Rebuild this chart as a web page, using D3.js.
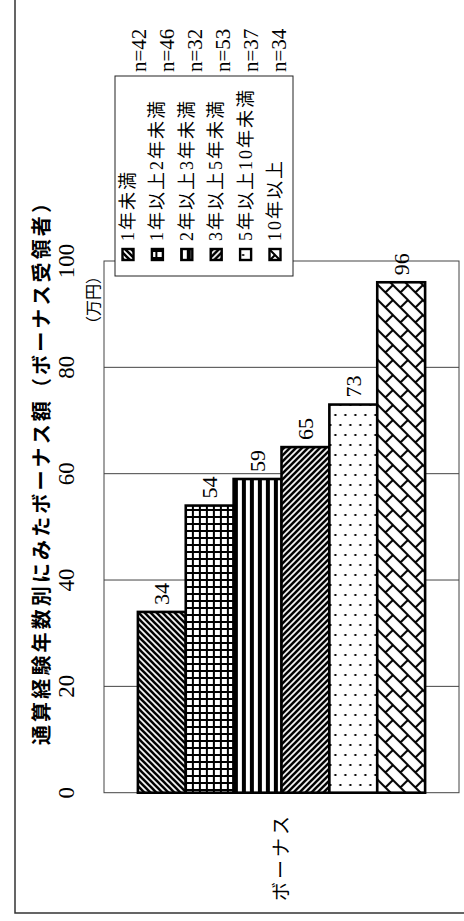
<!DOCTYPE html>
<html>
<head>
<meta charset="utf-8">
<script src="https://cdn.jsdelivr.net/npm/d3@7"></script>
<style>
  body { margin: 0; background: #fff; }
  svg { display: block; }
</style>
</head>
<body>
<svg id="canvas" width="464" height="921"></svg>
<script>
let categories = ["ボーナス"];
let series = ["1年未満", "1年以上2年未満", "2年以上3年未満", "3年以上5年未満", "5年以上10年未満", "10年以上"];
let values = [34, 54, 59, 65, 73, 96];
let counts = [42, 46, 32, 53, 37, 34];
let tickValues = [0, 20, 40, 60, 80, 100];

let serif = "'Liberation Serif', 'Times New Roman', 'DejaVu Serif', 'Noto Sans CJK JP', serif";

let svg = d3.select("#canvas");
let defs = svg.append("defs");

// hatch patterns, one per series
let pat = (id, w, h) => {
  let p = defs.append("pattern").attr("id", id)
    .attr("patternUnits", "userSpaceOnUse")
    .attr("width", w).attr("height", h);
  p.append("rect").attr("width", w).attr("height", h).attr("fill", "#fff");
  return p;
};
pat("p0", 6, 6).append("path")
  .attr("d", "M-1,-1L7,7M-1,5L1,7M5,-1L7,1")
  .attr("stroke", "#000").attr("stroke-width", 2.6);
let g1 = pat("p1", 7, 7);
g1.append("rect").attr("width", 7).attr("height", 7).attr("fill", "#000");
g1.append("rect").attr("width", 5).attr("height", 5).attr("fill", "#fff");
pat("p2", 8, 8).append("rect").attr("width", 4).attr("height", 8).attr("fill", "#000");
pat("p3", 6, 6).append("path")
  .attr("d", "M-1,7L7,-1M-1,1L1,-1M5,7L7,5")
  .attr("stroke", "#000").attr("stroke-width", 2.6);
let g4 = pat("p4", 10, 20);
g4.append("rect").attr("x", 1.5).attr("y", 4).attr("width", 2).attr("height", 2).attr("fill", "#000");
g4.append("rect").attr("x", 6.5).attr("y", 14).attr("width", 2).attr("height", 2).attr("fill", "#000");
pat("p5", 15, 15).append("path")
  .attr("d", "M0,0L15,15M-1,14L1,16M14,-1L16,1M7.5,7.5L15,0")
  .attr("stroke", "#000").attr("stroke-width", 2).attr("fill", "none");

let fillOf = (i) => "url(#p" + i + ")";

// outer frame
svg.append("path").attr("d", "M15,0V913H464")
  .attr("fill", "none").attr("stroke", "#333").attr("stroke-width", 1.5);

// scales (image is the chart turned on its side: bars stand up, value axis runs bottom->top)
let plotLeft = 104, plotRight = 459, plotBottom = 792.7, plotTop = 261;
let x0 = d3.scaleBand().domain(categories).range([plotLeft, plotRight]).paddingInner(0).paddingOuter(0.118);
let x1 = d3.scaleBand().domain(series).range([0, x0.bandwidth()]).padding(0);
let y = d3.scaleLinear().domain([0, 100]).range([plotBottom, plotTop]);

let vtext = (sel, x, yy) => sel.attr("transform", "translate(" + x + "," + yy + ") rotate(-90)");

// plot frame and gridlines
svg.append("rect").attr("x", plotLeft).attr("y", y(100)).attr("width", plotRight - plotLeft).attr("height", y(0) - y(100))
  .attr("fill", "none").attr("stroke", "#444").attr("stroke-width", 1);
svg.append("g").selectAll("line").data(tickValues.slice(1, -1)).enter().append("line")
  .attr("x1", plotLeft).attr("x2", plotRight)
  .attr("y1", (d) => y(d)).attr("y2", (d) => y(d))
  .attr("stroke", "#444").attr("stroke-width", 1);

// tick labels
svg.append("g").selectAll("text").data(tickValues).enter().append("text")
  .attr("font-family", serif).attr("font-size", 23)
  .attr("text-anchor", "middle").attr("dominant-baseline", "central")
  .each(function (d) { vtext(d3.select(this), 66, y(d)); })
  .text((d) => d);

svg.append("text").attr("font-family", serif).attr("font-size", 16)
  .attr("text-anchor", "middle").attr("dominant-baseline", "central")
  .call(vtext, 93, 300).text("（万円）");

// bars
let group = svg.append("g").attr("transform", "translate(" + x0(categories[0]) + ",0)");
group.selectAll("rect").data(values).enter().append("rect")
  .attr("x", (d, i) => x1(series[i]))
  .attr("y", (d) => y(d))
  .attr("width", x1.bandwidth())
  .attr("height", (d) => y(0) - y(d))
  .attr("fill", (d, i) => fillOf(i))
  .attr("stroke", "#000").attr("stroke-width", 2.6);

group.selectAll("text").data(values).enter().append("text")
  .attr("font-family", serif).attr("font-size", 22)
  .attr("dominant-baseline", "central")
  .each(function (d, i) { vtext(d3.select(this), x1(series[i]) + x1.bandwidth() / 2, y(d) - 7); })
  .text((d) => d);

// category label
svg.append("text").attr("font-family", "Noto Sans CJK JP").attr("font-size", 19)
  .attr("letter-spacing", 3).attr("text-anchor", "middle").attr("dominant-baseline", "central")
  .call(vtext, x0(categories[0]) + x0.bandwidth() / 2 - 2, 857).text(categories[0]);

// title
svg.append("text").attr("font-family", "Noto Sans CJK JP").attr("font-weight", "bold")
  .attr("font-size", 20).attr("dominant-baseline", "central")
  .attr("textLength", 552).attr("lengthAdjust", "spacing")
  .call(vtext, 40, 745).text("通算経験年数別にみたボーナス額（ボーナス受領者）");

// legend
svg.append("rect").attr("x", 115).attr("y", 76).attr("width", 178).attr("height", 200)
  .attr("fill", "#fff").attr("stroke", "#222").attr("stroke-width", 1);
let legend = svg.append("g").selectAll("g").data(series).enter().append("g")
  .attr("transform", (d, i) => "translate(" + (128 + i * 29.4) + ",0)");
legend.append("rect").attr("x", -5.5).attr("y", 249).attr("width", 11).attr("height", 11)
  .attr("fill", (d, i) => fillOf(i)).attr("stroke", "#000").attr("stroke-width", 2.4);
legend.append("text").attr("font-family", serif).attr("font-size", 18)
  .attr("letter-spacing", 2).attr("dominant-baseline", "central")
  .call(vtext, 0, 241).text((d) => d);

// sample sizes
svg.append("g").selectAll("text").data(counts).enter().append("text")
  .attr("font-family", serif).attr("font-size", 21).attr("dominant-baseline", "central")
  .each(function (d, i) { vtext(d3.select(this), 138.5 + i * 28, 72); })
  .text((d) => "n=" + d);
</script>
</body>
</html>
